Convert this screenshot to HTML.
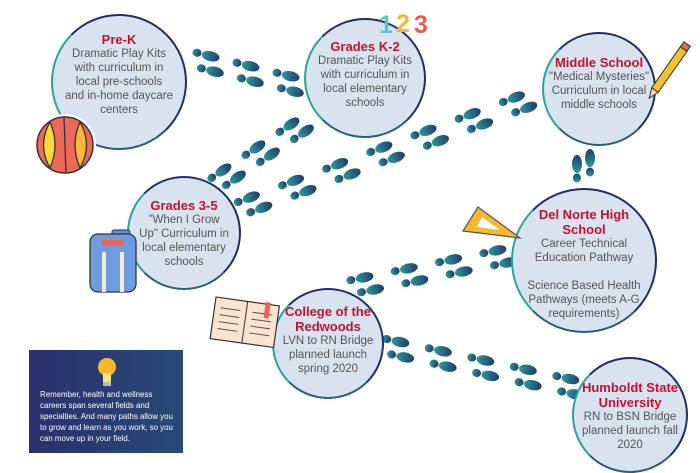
<!DOCTYPE html>
<html><head><meta charset="utf-8"><style>
body{margin:0;background:#fff;width:700px;height:473px;overflow:hidden;position:relative;font-family:"Liberation Sans",sans-serif}
.c{position:absolute;border-radius:50%;background:#d9e3f0;border:2px solid #1f2f66;border-left-color:#2aa39a;border-bottom-color:#27607a;box-sizing:border-box;display:flex;flex-direction:column;align-items:center;justify-content:center;text-align:center;color:#555;font-size:11.5px;line-height:14px;overflow:hidden}
.c b{color:#c8102e;font-size:13px;line-height:15px}
.info{position:absolute;left:29px;top:350px;width:154px;height:103px;background:linear-gradient(90deg,#2b2f6c,#284a76);color:#fff;font-size:7.9px;line-height:11px;box-sizing:border-box;padding:39px 6px 0 11px}
svg{position:absolute;left:0;top:0}
</style></head><body>
<svg id="s" width="700" height="473">
<defs><linearGradient id="g" x1="0" x2="1"><stop offset="0" stop-color="#2a9a98"/><stop offset="1" stop-color="#213a6e"/></linearGradient></defs>
</svg>
<div class="c" style="left:51px;top:14px;width:136px;height:136px;padding-bottom:16px"><b>Pre-K</b>Dramatic Play Kits<br>with curriculum in<br>local pre-schools<br>and in-home daycare<br>centers</div>
<div class="c" style="left:304px;top:18px;width:122px;height:120px;padding-bottom:8px"><b>Grades K-2</b>Dramatic Play Kits<br>with curriculum in<br>local elementary<br>schools</div>
<div class="c" style="left:542px;top:32px;width:114px;height:114px;padding-bottom:12px"><b>Middle School</b>"Medical Mysteries"<br>Curriculum in local<br>middle schools</div>
<div class="c" style="left:127px;top:176px;width:114px;height:114px"><b>Grades 3-5</b>"When I Grow<br>Up" Curriculum in<br>local elementary<br>schools</div>
<div class="c" style="left:511px;top:188px;width:146px;height:145px;padding-top:6px"><b>Del Norte High<br>School</b>Career Technical<br>Education Pathway<br><br>Science Based Health<br>Pathways (meets A-G<br>requirements)</div>
<div class="c" style="left:272px;top:288px;width:112px;height:111px;padding-bottom:8px"><b>College of the<br>Redwoods</b>LVN to RN Bridge<br>planned launch<br>spring 2020</div>
<div class="c" style="left:572px;top:357px;width:116px;height:116px;justify-content:flex-start;padding-top:21px"><b>Humboldt State<br>University</b>RN to BSN Bridge<br>planned launch fall<br>2020</div>
<div class="info">Remember, health and wellness careers span several fields and specialties. And many paths allow you to grow and learn as you work, so you can move up in your field.</div>
<svg width="700" height="473" style="pointer-events:none">
<g transform="translate(65,145)"><circle r="31" fill="#fff"/><circle r="28" fill="#ee6a58" stroke="#333" stroke-width="1.5"/><path d="M-15,-23 Q-5,0 -15,23 Q-28,0 -15,-23Z" fill="#f7d93a" stroke="#333" stroke-width="1.3"/><path d="M15,-23 Q5,0 15,23 Q28,0 15,-23Z" fill="#f9b73c" stroke="#333" stroke-width="1.3"/><line x1="-1" y1="-28" x2="1" y2="28" stroke="#333" stroke-width="1.3"/></g>
<text x="379" y="33" font-family="Liberation Sans" font-weight="bold" font-size="25" fill="#5cc3c3">1</text>
<text x="396" y="32" font-family="Liberation Sans" font-weight="bold" font-size="25" fill="#f5b63a">2</text>
<text x="414" y="33" font-family="Liberation Sans" font-weight="bold" font-size="25" fill="#ec5b4a">3</text>
<g transform="translate(655,90) rotate(-55)"><rect x="0" y="-4" width="50" height="8" fill="#f5c033" stroke="#333"/><rect x="50" y="-4" width="6" height="8" fill="#e86455" stroke="#333"/><path d="M0,-4 L-10,0 L0,4Z" fill="#f3d9b0" stroke="#333"/></g>
<path d="M463,231 L520,238 L478,207Z" fill="#f6b92e" stroke="#555" stroke-width="1.2"/><path d="M477,227 L500,230 L482,217Z" fill="#fff"/>
<g transform="translate(90,234)"><rect x="22" y="-4" width="18" height="8" rx="2" fill="#5a8fd6" stroke="#333"/><rect x="0" y="0" width="46" height="58" rx="8" fill="#6d9de0" stroke="#333" stroke-width="1.3"/><rect x="12" y="6" width="22" height="6" fill="#e86455"/><rect x="12" y="18" width="4" height="40" fill="#f3ead6"/><rect x="30" y="18" width="4" height="40" fill="#f3ead6"/></g>
<g transform="translate(216,297) rotate(8)"><rect x="0" y="0" width="64" height="42" fill="#fbe4cf" stroke="#333" stroke-width="1.2"/><line x1="32" y1="0" x2="32" y2="42" stroke="#333"/><path d="M6,10h20M6,17h20M6,24h20M6,31h20M38,10h20M38,17h20M38,24h20M38,31h20" stroke="#555"/><rect x="50" y="-2" width="5" height="16" fill="#e86455"/></g>
<g transform="translate(107,367)"><circle r="9" fill="#f5b82e"/><rect x="-4" y="6" width="8" height="9" fill="#f5e27a"/><rect x="-4" y="15" width="8" height="4" fill="#bbb"/></g>
</svg>
<script>
var s=document.getElementById('s'),N='http://www.w3.org/2000/svg';
function fp(x,y,a){var g=document.createElementNS(N,'g');g.setAttribute('transform','translate('+x+','+y+') rotate('+a+')');
g.innerHTML='<ellipse cx="4" cy="0" rx="9" ry="5" fill="url(#g)"/><ellipse cx="-10" cy="0" rx="4.5" ry="4" fill="url(#g)"/>';s.appendChild(g);}
function path(x1,y1,x2,y2,n){var dx=x2-x1,dy=y2-y1,L=Math.hypot(dx,dy),a=Math.atan2(dy,dx)*180/Math.PI,px=-dy/L*7,py=dx/L*7;
for(var i=0;i<n;i++){var t=n==1?0:i/(n-1),x=x1+dx*t,y=y1+dy*t;fp(x-px,y-py,a);fp(x+px+dx/L*8,y+py+dy/L*8,a);}}
path(205,62,285,82,3);
path(224,178,292,132,3);
path(250,205,515,105,7);
fp(577,168,-90);fp(590,162,-90);
path(362,285,495,258,4);
path(395,348,565,385,5);
</script>
</body></html>
